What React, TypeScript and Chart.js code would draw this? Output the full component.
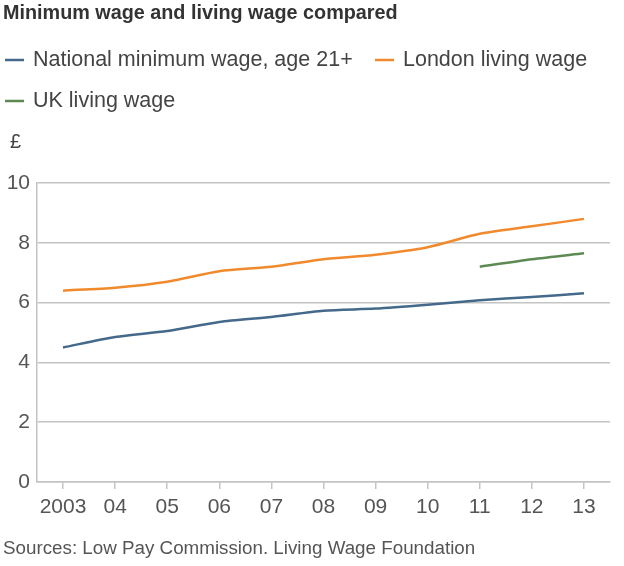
import React, { useEffect, useRef } from "react";
import { Chart, registerables } from "chart.js";

Chart.register(...registerables);

const categories = ["2003", "04", "05", "06", "07", "08", "09", "10", "11", "12", "13"];
const nationalMinimumWage = [4.5, 4.85, 5.05, 5.35, 5.52, 5.73, 5.8, 5.93, 6.08, 6.19, 6.31];
const londonLivingWage = [6.4, 6.5, 6.7, 7.05, 7.2, 7.45, 7.6, 7.85, 8.3, 8.55, 8.8];
const ukLivingWage = [null, null, null, null, null, null, null, null, 7.2, 7.45, 7.65];
const yTicks = [0, 2, 4, 6, 8, 10];

const seriesNames = ["National minimum wage, age 21+", "London living wage", "UK living wage"];
const seriesColors = ["#44698a", "#f08a2c", "#5d8a52"];
const titleText = "Minimum wage and living wage compared";
const unitText = "£";
const sourceText = "Sources: Low Pay Commission. Living Wage Foundation";

const FONT = "'Liberation Sans', Arial, Helvetica, sans-serif";

const textPlugin = {
  id: "texts",
  afterDraw(chart: any) {
    const ctx = chart.ctx;
    ctx.save();
    ctx.textBaseline = "middle";
    ctx.textAlign = "left";
    ctx.fillStyle = "#333333";
    ctx.font = `bold 19.8px ${FONT}`;
    ctx.fillText(titleText, 3, 14);

    ctx.font = `21.5px ${FONT}`;
    const legendPos = [
      [5, 60],
      [375, 60],
      [5, 101],
    ];
    seriesNames.forEach((name, i) => {
      const [x, y] = legendPos[i];
      ctx.strokeStyle = seriesColors[i];
      ctx.lineWidth = 2.5;
      ctx.beginPath();
      ctx.moveTo(x, y);
      ctx.lineTo(x + 19, y);
      ctx.stroke();
      ctx.fillStyle = "#444444";
      ctx.fillText(name, x + 28, y);
    });

    ctx.font = `20px ${FONT}`;
    ctx.fillStyle = "#444444";
    ctx.fillText(unitText, 10, 142);

    ctx.font = `18.8px ${FONT}`;
    ctx.fillStyle = "#555555";
    ctx.fillText(sourceText, 3, 549);
    ctx.restore();
  },
};

export default function App() {
  const ref = useRef<HTMLCanvasElement>(null);
  useEffect(() => {
    if (!ref.current) return;
    const chart = new Chart(ref.current, {
      type: "line",
      data: {
        labels: categories,
        datasets: [
          { label: seriesNames[0], data: nationalMinimumWage, borderColor: seriesColors[0] },
          { label: seriesNames[1], data: londonLivingWage, borderColor: seriesColors[1] },
          { label: seriesNames[2], data: ukLivingWage, borderColor: seriesColors[2] },
        ].map((d) => ({ ...d, borderWidth: 2.5, pointRadius: 0, tension: 0.25, fill: false, spanGaps: false })),
      },
      options: {
        animation: false,
        responsive: false,
        layout: { padding: { top: 183, left: 0, right: 14, bottom: 44 } },
        plugins: { legend: { display: false }, tooltip: { enabled: false }, title: { display: false } },
        scales: {
          x: {
            type: "category",
            offset: true,
            grid: { display: true, drawOnChartArea: false, drawTicks: true, tickLength: 7, color: "#c4c4c4", lineWidth: 1.5 },
            border: { display: true, color: "#c4c4c4", width: 1.5 },
            ticks: { color: "#555555", font: { family: FONT, size: 21 }, padding: 6, maxRotation: 0, autoSkip: false },
            afterFit(scale: any) {
              scale.height = 40;
            },
          },
          y: {
            min: 0,
            max: 10,
            afterBuildTicks(scale: any) {
              scale.ticks = yTicks.map((v) => ({ value: v }));
            },
            grid: { color: "#c4c4c4", lineWidth: 1.5, drawTicks: false },
            border: { display: true, color: "#c4c4c4", width: 1.5 },
            ticks: { color: "#555555", font: { family: FONT, size: 21 }, padding: 7 },
            afterFit(scale: any) {
              scale.width = 37;
            },
          },
        },
      },
      plugins: [textPlugin],
    });
    return () => chart.destroy();
  }, []);
  return (
    <div style={{ position: "absolute", left: 0, top: 0, width: 624, height: 566, background: "#fff" }}>
      <canvas ref={ref} width={624} height={566} />
    </div>
  );
}
